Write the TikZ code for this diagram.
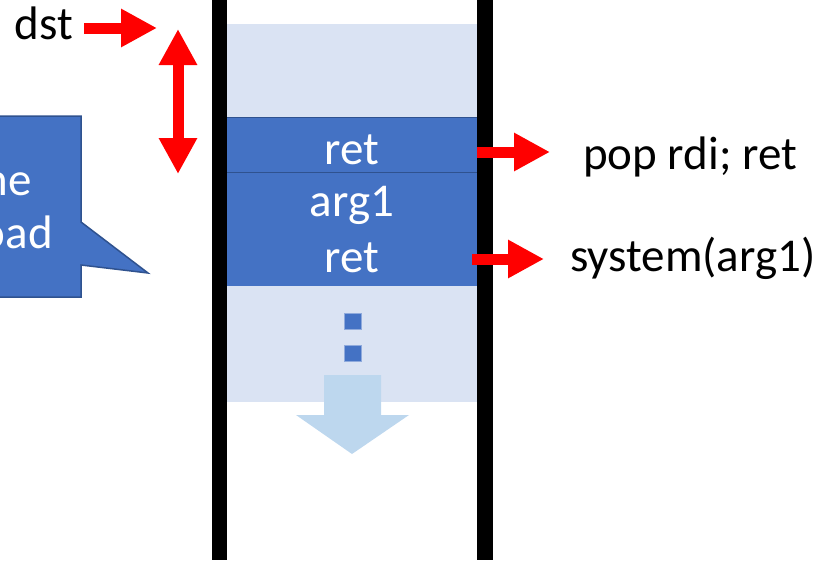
\documentclass[tikz,border=0pt]{standalone}
\usepackage{fontspec}
\setmainfont{Carlito}
\usetikzlibrary{arrows.meta, calc}
\definecolor{cellBlue}{HTML}{4472C4}
\definecolor{cellEdge}{HTML}{2F528F}
\definecolor{stackLight}{HTML}{DAE3F3}
\definecolor{growBlue}{HTML}{BDD7EE}
\tikzset{
  txt/.style={inner sep=0pt, font=\fontsize{47pt}{56pt}\selectfont},
  celltext/.style={txt, text=white, anchor=base},
  redflow/.style={draw=red, line width=11pt,
                  -{Triangle[length=36pt, width=36pt]}},
  twoway/.style={draw=red, line width=11pt,
                 {Triangle[length=36pt, width=36pt]}-{Triangle[length=36pt, width=36pt]}},
}

\begin{document}
\begin{tikzpicture}[x=1pt, y=-1pt]
  \useasboundingbox (0,0) rectangle (832,560);

  % ----- stack frame -----
  \fill[stackLight] (227,24) rectangle (477,402);            % free stack area
  \fill[cellBlue] (227,117) rectangle (477,286);             % written payload
  \draw[cellEdge, line width=1pt] (227,117) -- (477,117)
                                  (227,172) -- (477,172);
  \foreach \y in {313,345}
    \fill[cellBlue, draw=cellBlue!60, line width=0.5pt] (344,\y) rectangle (361,\y+16);
  \fill[growBlue] (324,375) -- (381,375) -- (381,415) -- (409,415)
                  -- (352,454) -- (296,415) -- (324,415) -- cycle; % growth
  \fill[black] (212,0) rectangle (227,560);                  % left wall
  \fill[black] (477,0) rectangle (493,560);                  % right wall

  % ----- cell texts -----
  \node[celltext] (retA) at (352,164) {ret};
  \node[celltext] (argA) at (352,216) {arg1};
  \node[celltext] (retB) at (352,272) {ret};

  % ----- callout -----
  \draw[cellEdge, fill=cellBlue, line width=1.5pt]
    (-20,116) -- (81,116) -- (81,222) -- (148,273) -- (81,265)
    -- (81,297) -- (-20,297) -- cycle;
  \node[txt, text=white, anchor=base east] (noteA) at (32,195) {ne};
  \node[txt, text=white, anchor=base east] (noteB) at (53,248) {oad};

  % ----- labels -----
  \node[txt, anchor=base east] (dst) at (73,39) {dst};
  \node[txt, anchor=base west] (popRet) at (583,169) {pop rdi; ret};
  \node[txt, anchor=base west] (sysCall) at (570,271) {system(arg1)};

  % ----- red arrows -----
  \coordinate (dstTip) at (157,28);
  \coordinate (gapTop) at (178,29);
  \coordinate (gapBot) at (178,174);
  \draw[redflow] ([xshift=11pt]dst.east |- dstTip) -- (dstTip);
  \draw[twoway] (gapTop) -- (gapBot);
  \draw[redflow] (477,152) -- ([xshift=-33pt]popRet.west |- 0,152);
  \draw[redflow] (472,259) -- ([xshift=-26pt]sysCall.west |- 0,259);
\end{tikzpicture}
\end{document}
